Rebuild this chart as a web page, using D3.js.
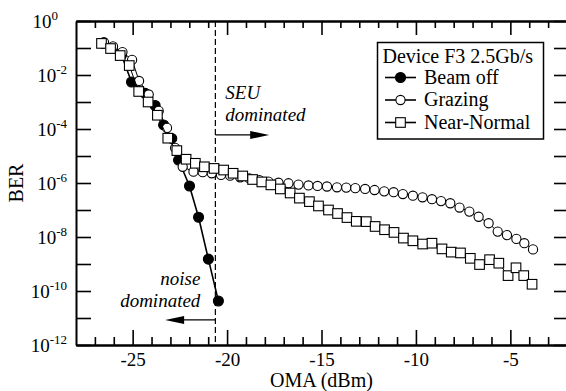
<!DOCTYPE html>
<html>
<head>
<meta charset="utf-8">
<script src="https://cdn.jsdelivr.net/npm/d3@7/dist/d3.min.js"></script>
<style>
  body { margin: 0; background: #fff; }
  svg { display: block; }
  svg text { font-family: 'Liberation Serif', 'Times New Roman', serif; fill: #000; }
</style>
</head>
<body>
<svg id="canvas" width="566" height="391"></svg>
<script>
// values: OMA in dBm, BER as log10
let beamOffOma = [-26.57, -26.07, -25.59, -25.06, -24.34, -23.81, -23.36, -22.93, -22.57, -21.99, -21.51, -20.99, -20.46];
let beamOffLogBer = [-0.83, -1.00, -1.26, -2.26, -2.68, -3.13, -3.85, -4.35, -5.15, -6.11, -7.27, -8.82, -10.37];

let grazingOma = [-26.52, -26.04, -25.54, -25.03, -24.66, -24.15, -23.62, -23.18, -22.75, -22.35,
  -21.78, -21.29, -20.81, -20.32, -19.84, -19.31, -18.82, -18.29, -17.81, -17.28,
  -16.75, -16.22, -15.69, -15.21, -14.71, -14.18, -13.69, -13.21, -12.69, -12.19,
  -11.68, -11.18, -10.69, -10.16, -9.65, -9.15, -8.67, -8.18, -7.69, -7.17,
  -6.68, -6.15, -5.67, -5.18, -4.68, -4.26, -3.80];
let grazingLogBer = [-0.78, -0.94, -1.15, -1.44, -2.22, -2.72, -3.33, -3.96, -4.70, -5.40,
  -5.58, -5.60, -5.64, -5.70, -5.73, -5.79, -5.83, -5.89, -5.95, -5.99,
  -6.01, -6.06, -6.09, -6.11, -6.13, -6.16, -6.17, -6.19, -6.22, -6.26,
  -6.31, -6.34, -6.41, -6.47, -6.53, -6.60, -6.67, -6.75, -6.91, -7.06,
  -7.25, -7.49, -7.80, -7.93, -8.07, -8.23, -8.46];

let nearNormalOma = [-26.65, -26.17, -25.66, -25.18, -24.68, -24.18, -23.69, -23.14, -22.66, -22.17,
  -21.68, -21.20, -20.69, -20.18, -19.68, -19.17, -18.65, -18.16, -17.68, -17.18,
  -16.66, -16.17, -15.64, -15.16, -14.63, -14.15, -13.65, -13.16, -12.63, -12.16,
  -11.66, -11.16, -10.66, -10.16, -9.64, -9.15, -8.62, -8.13, -7.64, -7.12,
  -6.63, -6.10, -5.61, -5.12, -4.70, -4.29, -3.85];
let nearNormalLogBer = [-0.83, -1.02, -1.28, -1.65, -2.61, -3.00, -3.49, -4.34, -4.80, -5.12,
  -5.27, -5.40, -5.46, -5.52, -5.64, -5.74, -5.87, -5.96, -6.07, -6.22,
  -6.37, -6.56, -6.69, -6.85, -7.00, -7.13, -7.28, -7.42, -7.43, -7.61,
  -7.73, -7.83, -8.04, -8.14, -8.26, -8.23, -8.44, -8.56, -8.59, -8.79,
  -9.02, -8.84, -8.97, -9.43, -9.14, -9.43, -9.75];

let xTickLabels = [-25, -20, -15, -10, -5];
let yTickExponents = [0, -2, -4, -6, -8, -10, -12];
let seuLimit = -20.62;
let legendTitle = 'Device F3 2.5Gb/s';
let seriesNames = ['Beam off', 'Grazing', 'Near-Normal'];

let canvas = d3.select('#canvas');

let plotLeft = 76, plotRight = 567, plotTop = 21, plotBottom = 345;
let serif = "'Liberation Serif', 'Times New Roman', serif";

let xScale = d3.scaleLinear().domain([-28, -2]).range([plotLeft, plotRight]);
let yScale = d3.scaleLog().domain([1, 1e-12]).range([plotTop, plotBottom]);

let toPoints = (omas, logs) => omas.map((oma, i) => ({ x: oma, y: Math.pow(10, logs[i]) }));

let beamOff = toPoints(beamOffOma, beamOffLogBer);
let grazing = toPoints(grazingOma, grazingLogBer);
let nearNormal = toPoints(nearNormalOma, nearNormalLogBer);

let minorX = d3.range(-27, -1).filter((v) => xTickLabels.indexOf(v) < 0);
let allDecades = d3.range(0, -13, -1).map((e) => Math.pow(10, e));

let styleAxis = (g) => {
  g.select('.domain').attr('stroke', '#000').attr('stroke-width', 2);
  g.selectAll('.tick line').attr('stroke', '#000').attr('stroke-width', 1.6);
};

// bottom
canvas.append('g')
  .attr('transform', 'translate(0,' + plotBottom + ')')
  .call(d3.axisBottom(xScale).tickValues(minorX).tickSize(-8).tickSizeOuter(0).tickFormat(''))
  .call(styleAxis);
canvas.append('g')
  .attr('transform', 'translate(0,' + plotBottom + ')')
  .call(d3.axisBottom(xScale).tickValues(xTickLabels).tickSize(-15).tickSizeOuter(0).tickPadding(8).tickFormat((d) => d))
  .call(styleAxis)
  .call((g) => g.selectAll('text').attr('font-size', 19).attr('fill', '#000').attr('font-family', serif));

// top
canvas.append('g')
  .attr('transform', 'translate(0,' + plotTop + ')')
  .call(d3.axisTop(xScale).tickValues(minorX).tickSize(-7).tickSizeOuter(0).tickFormat(''))
  .call(styleAxis);
canvas.append('g')
  .attr('transform', 'translate(0,' + plotTop + ')')
  .call(d3.axisTop(xScale).tickValues(xTickLabels).tickSize(-14).tickSizeOuter(0).tickFormat(''))
  .call(styleAxis);

// left / right
canvas.append('g')
  .attr('transform', 'translate(' + plotLeft + ',0)')
  .call(d3.axisLeft(yScale).tickValues(allDecades).tickSize(-15).tickSizeOuter(0).tickFormat(''))
  .call(styleAxis);
canvas.append('g')
  .attr('transform', 'translate(' + plotRight + ',0)')
  .call(d3.axisRight(yScale).tickValues(allDecades).tickSize(-13).tickSizeOuter(0).tickFormat(''))
  .call(styleAxis);

// y labels with superscripts
let yLabels = canvas.append('g')
  .selectAll('text')
  .data(yTickExponents)
  .enter()
  .append('text')
  .attr('x', (e) => (e === 0 ? 58 : 67))
  .attr('y', (e) => yScale(Math.pow(10, e)) + 7)
  .attr('text-anchor', 'end')
  .attr('font-family', serif)
  .attr('font-size', 19)
  .text('10');
yLabels.append('tspan')
  .attr('dy', -8)
  .attr('font-size', 13)
  .text((e) => e);

// axis titles
canvas.append('text')
  .attr('x', (plotLeft + plotRight) / 2)
  .attr('y', 387)
  .attr('text-anchor', 'middle')
  .attr('font-family', serif)
  .attr('font-size', 20)
  .text('OMA (dBm)');
canvas.append('text')
  .attr('transform', 'translate(23,' + (plotTop + plotBottom) / 2 + ') rotate(-90)')
  .attr('text-anchor', 'middle')
  .attr('font-family', serif)
  .attr('font-size', 20)
  .text('BER');

// dashed limit
let xs = xScale(seuLimit);
canvas.append('line')
  .attr('x1', xs).attr('x2', xs)
  .attr('y1', plotTop).attr('y2', plotBottom)
  .attr('stroke', '#000')
  .attr('stroke-width', 1.2)
  .attr('stroke-dasharray', '6,3');

let arrow = (x1, x2, yv) => {
  let yy = yScale(Math.pow(10, yv));
  let tip = xScale(x2);
  let dir = tip > xScale(x1) ? -1 : 1;
  canvas.append('line')
    .attr('x1', xScale(x1)).attr('x2', tip + dir * 10)
    .attr('y1', yy).attr('y2', yy)
    .attr('stroke', '#000').attr('stroke-width', 1.3);
  canvas.append('path')
    .attr('d', 'M' + tip + ',' + yy + ' L' + (tip + dir * 19) + ',' + (yy - 4) + ' L' + (tip + dir * 19) + ',' + (yy + 4) + ' Z')
    .attr('fill', '#000');
};
arrow(seuLimit, -17.77, -4.22);
arrow(seuLimit, -23.28, -11.07);

let note = (x, y, anchor, txt) => {
  canvas.append('text')
    .attr('x', x).attr('y', y)
    .attr('text-anchor', anchor)
    .attr('font-family', serif)
    .attr('font-size', 19)
    .attr('font-style', 'italic')
    .text(txt);
};
note(xs + 10, 99, 'start', 'SEU');
note(xs + 10, 121, 'start', 'dominated');
note(xs - 15, 285, 'end', 'noise');
note(xs - 15, 307, 'end', 'dominated');

// series
let line = d3.line().x((d) => xScale(d.x)).y((d) => yScale(d.y));

let drawCircles = (data, fill, r) => {
  canvas.append('g')
    .selectAll('circle')
    .data(data)
    .enter()
    .append('circle')
    .attr('cx', (d) => xScale(d.x))
    .attr('cy', (d) => yScale(d.y))
    .attr('r', r)
    .attr('fill', fill)
    .attr('stroke', '#000')
    .attr('stroke-width', 1.1);
};
let drawSquares = (data) => {
  canvas.append('g')
    .selectAll('rect')
    .data(data)
    .enter()
    .append('rect')
    .attr('x', (d) => xScale(d.x) - 4.8)
    .attr('y', (d) => yScale(d.y) - 4.8)
    .attr('width', 9.6)
    .attr('height', 9.6)
    .attr('fill', '#fff')
    .attr('stroke', '#000')
    .attr('stroke-width', 1.1);
};

canvas.append('path').datum(beamOff).attr('d', line)
  .attr('fill', 'none').attr('stroke', '#000').attr('stroke-width', 1.6);
drawCircles(beamOff, '#000', 5);

canvas.append('path').datum(grazing).attr('d', line)
  .attr('fill', 'none').attr('stroke', '#000').attr('stroke-width', 1);
drawCircles(grazing, '#fff', 4.6);

canvas.append('path').datum(nearNormal).attr('d', line)
  .attr('fill', 'none').attr('stroke', '#000').attr('stroke-width', 1);
drawSquares(nearNormal);

// legend
let legend = canvas.append('g');
legend.append('rect')
  .attr('x', 377.5).attr('y', 42.5)
  .attr('width', 166).attr('height', 96.5)
  .attr('fill', '#fff')
  .attr('stroke', '#000')
  .attr('stroke-width', 1.5);
legend.append('text')
  .attr('x', 382.5).attr('y', 63)
  .attr('font-family', serif)
  .attr('font-size', 20)
  .text(legendTitle);

seriesNames.forEach((name, i) => {
  let cy = 77.5 + i * 22.5;
  legend.append('line')
    .attr('x1', 385).attr('x2', 416)
    .attr('y1', cy).attr('y2', cy)
    .attr('stroke', '#000').attr('stroke-width', 1.6);
  if (i === 2) {
    legend.append('rect')
      .attr('x', 400.5 - 4.8).attr('y', cy - 4.8)
      .attr('width', 9.6).attr('height', 9.6)
      .attr('fill', '#fff').attr('stroke', '#000').attr('stroke-width', 1.1);
  } else {
    legend.append('circle')
      .attr('cx', 400.5).attr('cy', cy)
      .attr('r', i === 0 ? 5 : 4.6)
      .attr('fill', i === 0 ? '#000' : '#fff')
      .attr('stroke', '#000').attr('stroke-width', 1.1);
  }
  legend.append('text')
    .attr('x', 424).attr('y', cy + 6)
    .attr('font-family', serif)
    .attr('font-size', 20)
    .text(name);
});
</script>
</body>
</html>
